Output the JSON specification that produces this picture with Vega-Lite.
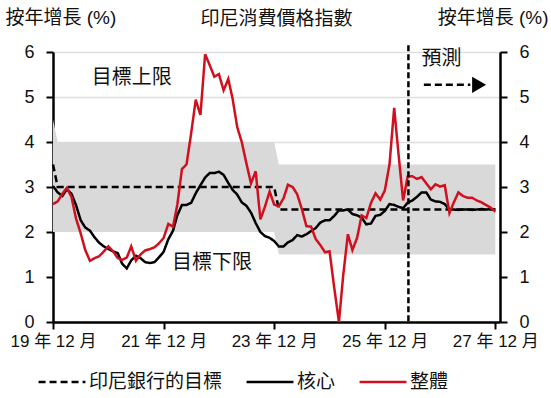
{
  "$schema": "https://vega.github.io/schema/vega-lite/v6.json",
  "width": 447,
  "height": 270,
  "autosize": {"type": "none"},
  "padding": {"left": 53, "top": 52, "right": 51, "bottom": 76},
  "background": "white",
  "config": {
    "view": {"stroke": null},
    "font": "Liberation Sans, Noto Sans CJK TC",
    "text": {"font": "Liberation Sans, Noto Sans CJK TC"}
  },
  "title": {
    "text": "印尼消費價格指數",
    "fontSize": 19,
    "fontWeight": "normal",
    "font": "Noto Sans CJK TC",
    "color": "#111111",
    "anchor": "middle",
    "frame": "group",
    "baseline": "middle",
    "offset": -30
  },
  "datasets": {
    "cpi": [
      {"d": "2019-12", "t": 3.5, "c": 3.02, "h": 2.62, "lo": 2.0, "hi": 4.5},
      {"d": "2020-01", "t": 3.0, "c": 2.88, "h": 2.68, "lo": 2.0, "hi": 4.0},
      {"d": "2020-02", "t": 3.0, "c": 2.8, "h": 2.85, "lo": 2.0, "hi": 4.0},
      {"d": "2020-03", "t": 3.0, "c": 2.95, "h": 2.98, "lo": 2.0, "hi": 4.0},
      {"d": "2020-04", "t": 3.0, "c": 2.85, "h": 2.78, "lo": 2.0, "hi": 4.0},
      {"d": "2020-05", "t": 3.0, "c": 2.6, "h": 2.3, "lo": 2.0, "hi": 4.0},
      {"d": "2020-06", "t": 3.0, "c": 2.26, "h": 1.97, "lo": 2.0, "hi": 4.0},
      {"d": "2020-07", "t": 3.0, "c": 2.1, "h": 1.6, "lo": 2.0, "hi": 4.0},
      {"d": "2020-08", "t": 3.0, "c": 2.03, "h": 1.36, "lo": 2.0, "hi": 4.0},
      {"d": "2020-09", "t": 3.0, "c": 1.88, "h": 1.42, "lo": 2.0, "hi": 4.0},
      {"d": "2020-10", "t": 3.0, "c": 1.76, "h": 1.46, "lo": 2.0, "hi": 4.0},
      {"d": "2020-11", "t": 3.0, "c": 1.68, "h": 1.57, "lo": 2.0, "hi": 4.0},
      {"d": "2020-12", "t": 3.0, "c": 1.62, "h": 1.68, "lo": 2.0, "hi": 4.0},
      {"d": "2021-01", "t": 3.0, "c": 1.57, "h": 1.57, "lo": 2.0, "hi": 4.0},
      {"d": "2021-02", "t": 3.0, "c": 1.53, "h": 1.42, "lo": 2.0, "hi": 4.0},
      {"d": "2021-03", "t": 3.0, "c": 1.3, "h": 1.38, "lo": 2.0, "hi": 4.0},
      {"d": "2021-04", "t": 3.0, "c": 1.19, "h": 1.43, "lo": 2.0, "hi": 4.0},
      {"d": "2021-05", "t": 3.0, "c": 1.37, "h": 1.68, "lo": 2.0, "hi": 4.0},
      {"d": "2021-06", "t": 3.0, "c": 1.47, "h": 1.36, "lo": 2.0, "hi": 4.0},
      {"d": "2021-07", "t": 3.0, "c": 1.42, "h": 1.5, "lo": 2.0, "hi": 4.0},
      {"d": "2021-08", "t": 3.0, "c": 1.33, "h": 1.59, "lo": 2.0, "hi": 4.0},
      {"d": "2021-09", "t": 3.0, "c": 1.31, "h": 1.62, "lo": 2.0, "hi": 4.0},
      {"d": "2021-10", "t": 3.0, "c": 1.33, "h": 1.66, "lo": 2.0, "hi": 4.0},
      {"d": "2021-11", "t": 3.0, "c": 1.44, "h": 1.75, "lo": 2.0, "hi": 4.0},
      {"d": "2021-12", "t": 3.0, "c": 1.56, "h": 1.87, "lo": 2.0, "hi": 4.0},
      {"d": "2022-01", "t": 3.0, "c": 1.84, "h": 2.18, "lo": 2.0, "hi": 4.0},
      {"d": "2022-02", "t": 3.0, "c": 2.03, "h": 2.12, "lo": 2.0, "hi": 4.0},
      {"d": "2022-03", "t": 3.0, "c": 2.37, "h": 2.6, "lo": 2.0, "hi": 4.0},
      {"d": "2022-04", "t": 3.0, "c": 2.6, "h": 3.4, "lo": 2.0, "hi": 4.0},
      {"d": "2022-05", "t": 3.0, "c": 2.6, "h": 3.5, "lo": 2.0, "hi": 4.0},
      {"d": "2022-06", "t": 3.0, "c": 2.65, "h": 4.2, "lo": 2.0, "hi": 4.0},
      {"d": "2022-07", "t": 3.0, "c": 2.86, "h": 4.94, "lo": 2.0, "hi": 4.0},
      {"d": "2022-08", "t": 3.0, "c": 3.04, "h": 4.6, "lo": 2.0, "hi": 4.0},
      {"d": "2022-09", "t": 3.0, "c": 3.21, "h": 5.95, "lo": 2.0, "hi": 4.0},
      {"d": "2022-10", "t": 3.0, "c": 3.31, "h": 5.71, "lo": 2.0, "hi": 4.0},
      {"d": "2022-11", "t": 3.0, "c": 3.31, "h": 5.45, "lo": 2.0, "hi": 4.0},
      {"d": "2022-12", "t": 3.0, "c": 3.34, "h": 5.51, "lo": 2.0, "hi": 4.0},
      {"d": "2023-01", "t": 3.0, "c": 3.27, "h": 5.15, "lo": 2.0, "hi": 4.0},
      {"d": "2023-02", "t": 3.0, "c": 3.09, "h": 5.4, "lo": 2.0, "hi": 4.0},
      {"d": "2023-03", "t": 3.0, "c": 2.94, "h": 4.97, "lo": 2.0, "hi": 4.0},
      {"d": "2023-04", "t": 3.0, "c": 2.83, "h": 4.33, "lo": 2.0, "hi": 4.0},
      {"d": "2023-05", "t": 3.0, "c": 2.66, "h": 4.0, "lo": 2.0, "hi": 4.0},
      {"d": "2023-06", "t": 3.0, "c": 2.58, "h": 3.52, "lo": 2.0, "hi": 4.0},
      {"d": "2023-07", "t": 3.0, "c": 2.43, "h": 3.08, "lo": 2.0, "hi": 4.0},
      {"d": "2023-08", "t": 3.0, "c": 2.2, "h": 3.35, "lo": 2.0, "hi": 4.0},
      {"d": "2023-09", "t": 3.0, "c": 2.0, "h": 2.28, "lo": 2.0, "hi": 4.0},
      {"d": "2023-10", "t": 3.0, "c": 1.91, "h": 2.56, "lo": 2.0, "hi": 4.0},
      {"d": "2023-11", "t": 3.0, "c": 1.87, "h": 2.9, "lo": 2.0, "hi": 4.0},
      {"d": "2023-12", "t": 3.0, "c": 1.8, "h": 2.61, "lo": 2.0, "hi": 4.0},
      {"d": "2024-01", "t": 2.5, "c": 1.68, "h": 2.57, "lo": 1.5, "hi": 3.5},
      {"d": "2024-02", "t": 2.5, "c": 1.68, "h": 2.75, "lo": 1.5, "hi": 3.5},
      {"d": "2024-03", "t": 2.5, "c": 1.77, "h": 3.05, "lo": 1.5, "hi": 3.5},
      {"d": "2024-04", "t": 2.5, "c": 1.82, "h": 3.0, "lo": 1.5, "hi": 3.5},
      {"d": "2024-05", "t": 2.5, "c": 1.93, "h": 2.84, "lo": 1.5, "hi": 3.5},
      {"d": "2024-06", "t": 2.5, "c": 1.9, "h": 2.51, "lo": 1.5, "hi": 3.5},
      {"d": "2024-07", "t": 2.5, "c": 1.95, "h": 2.13, "lo": 1.5, "hi": 3.5},
      {"d": "2024-08", "t": 2.5, "c": 2.02, "h": 2.12, "lo": 1.5, "hi": 3.5},
      {"d": "2024-09", "t": 2.5, "c": 2.09, "h": 1.84, "lo": 1.5, "hi": 3.5},
      {"d": "2024-10", "t": 2.5, "c": 2.21, "h": 1.71, "lo": 1.5, "hi": 3.5},
      {"d": "2024-11", "t": 2.5, "c": 2.26, "h": 1.55, "lo": 1.5, "hi": 3.5},
      {"d": "2024-12", "t": 2.5, "c": 2.26, "h": 1.57, "lo": 1.5, "hi": 3.5},
      {"d": "2025-01", "t": 2.5, "c": 2.36, "h": 0.76, "lo": 1.5, "hi": 3.5},
      {"d": "2025-02", "t": 2.5, "c": 2.48, "h": 0.0, "lo": 1.5, "hi": 3.5},
      {"d": "2025-03", "t": 2.5, "c": 2.48, "h": 1.03, "lo": 1.5, "hi": 3.5},
      {"d": "2025-04", "t": 2.5, "c": 2.5, "h": 1.95, "lo": 1.5, "hi": 3.5},
      {"d": "2025-05", "t": 2.5, "c": 2.4, "h": 1.6, "lo": 1.5, "hi": 3.5},
      {"d": "2025-06", "t": 2.5, "c": 2.37, "h": 1.87, "lo": 1.5, "hi": 3.5},
      {"d": "2025-07", "t": 2.5, "c": 2.32, "h": 2.37, "lo": 1.5, "hi": 3.5},
      {"d": "2025-08", "t": 2.5, "c": 2.17, "h": 2.31, "lo": 1.5, "hi": 3.5},
      {"d": "2025-09", "t": 2.5, "c": 2.19, "h": 2.65, "lo": 1.5, "hi": 3.5},
      {"d": "2025-10", "t": 2.5, "c": 2.36, "h": 2.86, "lo": 1.5, "hi": 3.5},
      {"d": "2025-11", "t": 2.5, "c": 2.38, "h": 2.72, "lo": 1.5, "hi": 3.5},
      {"d": "2025-12", "t": 2.5, "c": 2.47, "h": 2.92, "lo": 1.5, "hi": 3.5},
      {"d": "2026-01", "t": 2.5, "c": 2.62, "h": 3.5, "lo": 1.5, "hi": 3.5},
      {"d": "2026-02", "t": 2.5, "c": 2.6, "h": 4.76, "lo": 1.5, "hi": 3.5},
      {"d": "2026-03", "t": 2.5, "c": 2.56, "h": 3.75, "lo": 1.5, "hi": 3.5},
      {"d": "2026-04", "t": 2.5, "c": 2.53, "h": 2.7, "lo": 1.5, "hi": 3.5},
      {"d": "2026-05", "t": 2.5, "c": 2.65, "h": 3.23, "lo": 1.5, "hi": 3.5},
      {"d": "2026-06", "t": 2.5, "c": 2.7, "h": 3.24, "lo": 1.5, "hi": 3.5},
      {"d": "2026-07", "t": 2.5, "c": 2.78, "h": 3.18, "lo": 1.5, "hi": 3.5},
      {"d": "2026-08", "t": 2.5, "c": 2.88, "h": 3.22, "lo": 1.5, "hi": 3.5},
      {"d": "2026-09", "t": 2.5, "c": 2.88, "h": 3.08, "lo": 1.5, "hi": 3.5},
      {"d": "2026-10", "t": 2.5, "c": 2.72, "h": 2.95, "lo": 1.5, "hi": 3.5},
      {"d": "2026-11", "t": 2.5, "c": 2.68, "h": 3.06, "lo": 1.5, "hi": 3.5},
      {"d": "2026-12", "t": 2.5, "c": 2.67, "h": 3.01, "lo": 1.5, "hi": 3.5},
      {"d": "2027-01", "t": 2.5, "c": 2.62, "h": 3.04, "lo": 1.5, "hi": 3.5},
      {"d": "2027-02", "t": 2.5, "c": 2.5, "h": 2.42, "lo": 1.5, "hi": 3.5},
      {"d": "2027-03", "t": 2.5, "c": 2.5, "h": 2.65, "lo": 1.5, "hi": 3.5},
      {"d": "2027-04", "t": 2.5, "c": 2.49, "h": 2.88, "lo": 1.5, "hi": 3.5},
      {"d": "2027-05", "t": 2.5, "c": 2.5, "h": 2.8, "lo": 1.5, "hi": 3.5},
      {"d": "2027-06", "t": 2.5, "c": 2.5, "h": 2.76, "lo": 1.5, "hi": 3.5},
      {"d": "2027-07", "t": 2.5, "c": 2.49, "h": 2.76, "lo": 1.5, "hi": 3.5},
      {"d": "2027-08", "t": 2.5, "c": 2.5, "h": 2.7, "lo": 1.5, "hi": 3.5},
      {"d": "2027-09", "t": 2.5, "c": 2.51, "h": 2.66, "lo": 1.5, "hi": 3.5},
      {"d": "2027-10", "t": 2.5, "c": 2.5, "h": 2.6, "lo": 1.5, "hi": 3.5},
      {"d": "2027-11", "t": 2.5, "c": 2.51, "h": 2.54, "lo": 1.5, "hi": 3.5},
      {"d": "2027-12", "t": 2.5, "c": 2.5, "h": 2.45, "lo": 1.5, "hi": 3.5}
    ],
    "notes": [
      {"d": "2021-05-04", "v": 5.42, "txt": "目標上限"},
      {"d": "2022-10-16", "v": 1.32, "txt": "目標下限"},
      {"d": "2026-12-10", "v": 5.84, "txt": "預測"}
    ],
    "arrow": [
      {"d": "2026-08-16", "d2": "2027-06-19", "tip": "2027-08-16", "v": 5.27}
    ],
    "forecast": [
      {"d": "2026-05-06", "top": 6.15, "bot": 0}
    ]
  },
  "layer": [
    {
      "layer": [
        {
          "data": {"name": "cpi"},
          "mark": {"type": "area", "color": "#d9d9d9", "opacity": 1},
          "encoding": {
            "x": {
              "field": "d",
              "type": "temporal",
              "scale": {
                "type": "utc",
                "domain": [
                  {"year": 2019, "month": 12, "date": 1, "utc": true},
                  {"year": 2028, "month": 1, "date": 1, "utc": true}
                ]
              },
              "axis": {
                "title": null,
                "values": [
                  {"year": 2019, "month": 12, "date": 1, "utc": true},
                  {"year": 2021, "month": 12, "date": 1, "utc": true},
                  {"year": 2023, "month": 12, "date": 1, "utc": true},
                  {"year": 2025, "month": 12, "date": 1, "utc": true},
                  {"year": 2027, "month": 12, "date": 1, "utc": true}
                ],
                "labelExpr": "utcFormat(datum.value, '%y') + ' 年 12 月'",
                "grid": false,
                "domainColor": "#000000",
                "domainWidth": 2.5,
                "tickColor": "#000000",
                "tickWidth": 2,
                "tickSize": 7,
                "labelFontSize": 17,
                "labelColor": "#111111",
                "labelPadding": 4,
                "labelFlush": false,
                "labelOverlap": false
              }
            },
            "y": {
              "field": "hi",
              "type": "quantitative",
              "title": "按年增長 (%)",
              "scale": {"domain": [0, 6], "nice": false, "zero": true},
              "axis": {
                "orient": "left",
                "values": [0, 1, 2, 3, 4, 5, 6],
                "grid": true,
                "gridColor": "#dedede",
                "gridWidth": 1.5,
                "gridOpacity": {"condition": {"test": "datum.value >= 4", "value": 1}, "value": 0},
                "domainColor": "#000000",
                "domainWidth": 2.5,
                "tickColor": "#000000",
                "tickWidth": 2,
                "tickSize": 7,
                "labelFontSize": 18,
                "labelColor": "#111111",
                "labelPadding": 12,
                "labelFlush": false,
                "titleAngle": 0,
                "titleAlign": "left",
                "titleBaseline": "middle",
                "titleX": -48,
                "titleY": -35,
                "titleFontSize": 19,
                "titleFontWeight": "normal",
                "titleColor": "#111111"
              }
            },
            "y2": {"field": "lo"}
          }
        },
        {
          "data": {"name": "cpi"},
          "transform": [{"fold": ["t", "c", "h"], "as": ["series", "value"]}],
          "mark": {"type": "line", "strokeWidth": 2.5},
          "encoding": {
            "x": {"field": "d", "type": "temporal"},
            "y": {"field": "value", "type": "quantitative", "title": "按年增長 (%)"},
            "color": {
              "field": "series",
              "type": "nominal",
              "sort": ["t", "c", "h"],
              "scale": {"domain": ["t", "c", "h"], "range": ["#000000", "#000000", "#d0101e"]},
              "legend": {
                "title": null,
                "orient": "none",
                "direction": "horizontal",
                "legendX": -16,
                "legendY": 305,
                "symbolType": "stroke",
                "symbolSize": 2200,
                "symbolStrokeWidth": 2.5,
                "labelFontSize": 19,
                "labelColor": "#111111",
                "labelOffset": 2,
                "columnPadding": 18,
                "labelLimit": 300,
                "labelExpr": "datum.label == 't' ? '印尼銀行的目標' : datum.label == 'c' ? '核心' : '整體'"
              }
            },
            "strokeDash": {
              "field": "series",
              "type": "nominal",
              "sort": ["t", "c", "h"],
              "scale": {"domain": ["t", "c", "h"], "range": [[7, 4], [1, 0], [1, 0]]},
              "legend": {
                "title": null,
                "orient": "none",
                "direction": "horizontal",
                "legendX": -16,
                "legendY": 305,
                "symbolType": "stroke",
                "symbolSize": 2200,
                "symbolStrokeWidth": 2.5,
                "labelFontSize": 19,
                "labelColor": "#111111",
                "labelOffset": 2,
                "columnPadding": 18,
                "labelLimit": 300,
                "labelExpr": "datum.label == 't' ? '印尼銀行的目標' : datum.label == 'c' ? '核心' : '整體'"
              }
            }
          }
        },
        {
          "data": {"name": "notes"},
          "mark": {"type": "text", "fontSize": 20, "align": "center", "baseline": "middle", "color": "#111111", "font": "Noto Sans CJK TC"},
          "encoding": {
            "x": {"field": "d", "type": "temporal"},
            "y": {"field": "v", "type": "quantitative", "title": "按年增長 (%)"},
            "text": {"field": "txt"}
          }
        },
        {
          "data": {"name": "arrow"},
          "mark": {"type": "rule", "strokeWidth": 2.5, "strokeDash": [7, 4], "color": "#000000"},
          "encoding": {
            "x": {"field": "d", "type": "temporal"},
            "x2": {"field": "d2"},
            "y": {"field": "v", "type": "quantitative", "title": "按年增長 (%)"}
          }
        },
        {
          "data": {"name": "arrow"},
          "mark": {"type": "point", "shape": "triangle-right", "filled": true, "size": 260, "color": "#000000", "opacity": 1},
          "encoding": {
            "x": {"field": "tip", "type": "temporal"},
            "y": {"field": "v", "type": "quantitative", "title": "按年增長 (%)"}
          }
        }
      ]
    },
    {
      "data": {"name": "forecast"},
      "mark": {"type": "rule", "strokeWidth": 2.5, "strokeDash": [6, 3], "color": "#000000"},
      "encoding": {
        "x": {"field": "d", "type": "temporal"},
        "y": {
          "field": "top",
          "type": "quantitative",
          "title": "按年增長 (%)",
          "scale": {"domain": [0, 6], "nice": false, "zero": true},
          "axis": {
            "orient": "right",
            "values": [0, 1, 2, 3, 4, 5, 6],
            "grid": false,
            "domainColor": "#000000",
            "domainWidth": 2.5,
            "tickColor": "#000000",
            "tickWidth": 2,
            "tickSize": 7,
            "labelFontSize": 18,
            "labelColor": "#111111",
            "labelPadding": 12,
            "labelFlush": false,
            "titleAngle": 0,
            "titleAlign": "right",
            "titleBaseline": "middle",
            "titleX": 48,
            "titleY": -35,
            "titleFontSize": 19,
            "titleFontWeight": "normal",
            "titleColor": "#111111"
          }
        },
        "y2": {"field": "bot"}
      }
    }
  ],
  "resolve": {"scale": {"y": "independent"}}
}
